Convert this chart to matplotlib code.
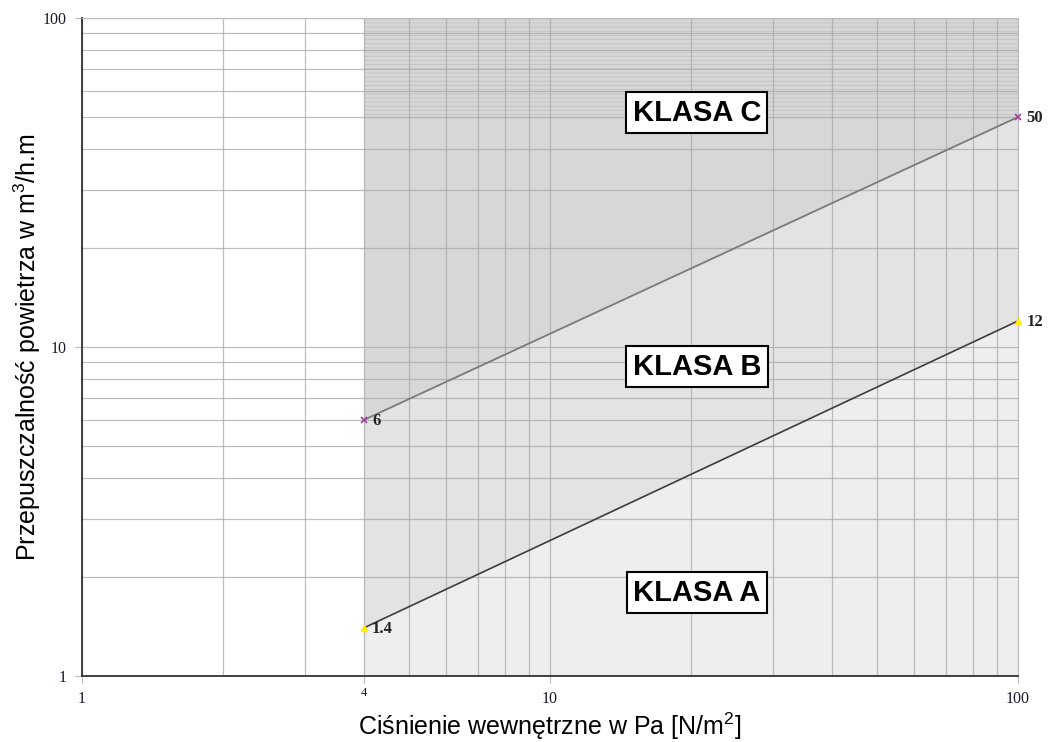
#!/usr/bin/env python3
"""Air permeability classes (KLASA A/B/C) vs internal pressure, log-log."""

import matplotlib
matplotlib.use('Agg')
import matplotlib.pyplot as plt
from matplotlib.ticker import FixedLocator, LogLocator, NullFormatter

# Data
pressure = [4, 100]            # Pa
limit_c = [6, 50]              # boundary between class B and C
limit_a = [1.4, 12]            # boundary between class A and B
limit_c_labels = ['6', '50']
limit_a_labels = ['1.4', '12']
hatch_from = 50                # dense-line band at the top of class C

class_names = ['KLASA C', 'KLASA B', 'KLASA A']
class_x = [20.6, 20.6, 20.6]
class_y = [51.5, 8.7, 1.79]

x_ticks = [1, 4, 10, 100]
x_tick_labels = ['1', '4', '10', '100']
y_ticks = [1, 10, 100]
y_tick_labels = ['1', '10', '100']

plt.rcParams['hatch.linewidth'] = 0.6
plt.rcParams['mathtext.fontset'] = 'custom'
plt.rcParams['mathtext.rm'] = 'Liberation Sans'

fig = plt.figure(figsize=(10.51, 7.42), dpi=100)
ax = fig.add_axes([82 / 1051, 66 / 742, 936 / 1051, 658 / 742])
ax.set_xscale('log')
ax.set_yscale('log')
ax.set_xlim(1, 100)
ax.set_ylim(1, 100)

# Shaded class areas (only from 4 Pa upwards)
ax.fill_between(pressure, [1, 1], limit_a, color='#eeeeee', lw=0, zorder=0.5)
ax.fill_between(pressure, limit_a, limit_c, color='#e3e3e3', lw=0, zorder=0.5)
ax.fill_between(pressure, limit_c, [100, 100], color='#d7d7d7', lw=0, zorder=0.5)
ax.fill_between(pressure, [hatch_from] * 2, [100, 100], facecolor='none',
                edgecolor='#c2c2c2', hatch='----', lw=0, zorder=0.6)

# Grid on every decade subdivision
ax.xaxis.set_minor_locator(LogLocator(base=10, subs=range(2, 10)))
ax.yaxis.set_minor_locator(LogLocator(base=10, subs=range(2, 10)))
ax.grid(True, which='both', color='#a8a8a8', linewidth=0.9, alpha=0.75)

# Boundary lines
ax.plot(pressure, limit_c, color='#7a7a7a', linewidth=1.3, zorder=3)
ax.plot(pressure, limit_a, color='#3c3c3c', linewidth=1.2, zorder=3)
ax.plot(pressure, limit_c, linestyle='none', marker='x', markersize=4,
        markeredgewidth=1.2, color='#a0409a', zorder=4, clip_on=False)
ax.plot(pressure, limit_a, linestyle='none', marker='^', markersize=5,
        color='#ffee00', zorder=4, clip_on=False)

for xs, ys, labs in [(pressure, limit_c, limit_c_labels),
                     (pressure, limit_a, limit_a_labels)]:
    for x, y, lab in zip(xs, ys, labs):
        ax.annotate(lab, (x, y), xytext=(6, -1), textcoords='offset points',
                    ha='left', va='center', fontsize=12, fontweight='bold',
                    family='Liberation Serif', color='#222222',
                    annotation_clip=False, zorder=5)

for name, x, y in zip(class_names, class_x, class_y):
    ax.text(x, y, name, ha='center', va='center', fontsize=21,
            fontweight='bold', family='Liberation Sans', zorder=6,
            bbox=dict(boxstyle='square,pad=0.22', facecolor='white',
                      edgecolor='black', linewidth=1.5))

# Axes and ticks
ax.xaxis.set_major_locator(FixedLocator(x_ticks))
ax.yaxis.set_major_locator(FixedLocator(y_ticks))
ax.xaxis.set_minor_formatter(NullFormatter())
ax.yaxis.set_minor_formatter(NullFormatter())
ax.set_xticklabels(x_tick_labels, family='Liberation Serif', fontsize=11.5,
                   color='#1a1a2a')
ax.set_yticklabels(y_tick_labels, family='Liberation Serif', fontsize=11.5,
                   color='#1a1a2a')
four = ax.get_xticklabels()[1]
four.set_fontsize(9)
four.set_y(0.006)
ax.tick_params(which='major', length=5, color='#bbbbbb')
ax.tick_params(axis='x', which='major', pad=6)
ax.tick_params(axis='y', which='major', pad=6)
ax.tick_params(which='minor', length=0)

for side in ['left', 'bottom']:
    ax.spines[side].set_color('#333333')
    ax.spines[side].set_linewidth(1.3)
for side in ['top', 'right']:
    ax.spines[side].set_color('#bbbbbb')

ax.set_xlabel('Ciśnienie wewnętrzne w Pa [N/m$^2$]', family='Liberation Sans',
              fontsize=18, va='center')
ax.set_ylabel('Przepuszczalność powietrza w m$^3$/h.m', family='Liberation Sans',
              fontsize=18, va='center')
ax.xaxis.set_label_coords(0.5, -50 / 658)
ax.yaxis.set_label_coords(-55 / 936, 0.5)

fig.savefig('out.png', dpi=100)
